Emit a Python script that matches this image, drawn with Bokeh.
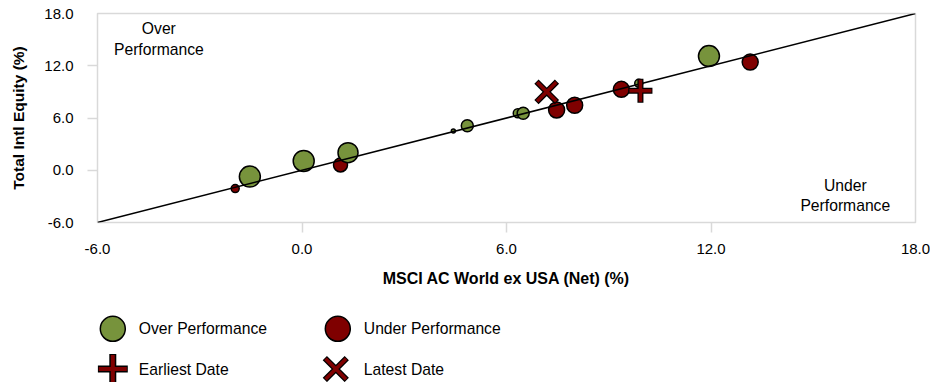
from bokeh.plotting import figure
from bokeh.models import Range1d, FixedTicker, Label, LinearAxis, PrintfTickFormatter
from bokeh.layouts import column
from bokeh.embed import file_html
from bokeh.resources import INLINE
from bokeh.core.properties import value

# ---------------- data ----------------
axis_min, axis_max = -6.0, 18.0
axis_ticks = [-6.0, 0.0, 6.0, 12.0, 18.0]
inner_ticks = [0.0, 6.0, 12.0]

x_title = "MSCI AC World ex USA (Net) (%)"
y_title = "Total Intl Equity (%)"

over_x = [-1.53, 0.05, 1.35, 4.44, 4.85, 6.33, 6.49, 9.88, 11.94]
over_y = [-0.73, 1.07, 2.02, 4.51, 5.12, 6.54, 6.54, 9.98, 13.11]
over_size = [21, 21, 20, 4, 12, 9, 12, 8, 21]

under_x = [-1.96, 1.13, 7.47, 8.00, 9.37, 13.15]
under_y = [-2.10, 0.61, 6.92, 7.46, 9.29, 12.42]
under_size = [8, 14, 16, 16, 16, 16]

earliest_x = [9.93]
earliest_y = [9.13]
latest_x = [7.18]
latest_y = [9.01]

legend_labels = ["Over Performance", "Under Performance", "Earliest Date", "Latest Date"]
region_labels = ["Over\nPerformance", "Under\nPerformance"]

# ---------------- style ----------------
FONT = "Liberation Sans"
GREEN = "#77933c"
RED = "#7f0000"
GRAY = "#d9d9d9"
W = 930
MAIN_H = 300
LEG_H = 82
BL, BR = 97, 15

p = figure(width=W, height=MAIN_H,
           x_range=Range1d(axis_min, axis_max), y_range=Range1d(axis_min, axis_max),
           output_backend="svg", toolbar_location=None,
           min_border_left=BL, min_border_right=BR, min_border_top=13, min_border_bottom=78)
p.grid.visible = False
p.outline_line_color = GRAY
p.outline_line_width = 1.5
p.background_fill_color = "white"
p.border_fill_color = "white"

# inner axes: gray tick marks only (labels not drawn)
for ax in (p.xaxis[0], p.yaxis[0]):
    ax.ticker = FixedTicker(ticks=inner_ticks)
    ax.major_label_overrides = {t: "" for t in inner_ticks}
    ax.axis_line_color = None
    ax.major_tick_line_color = GRAY
    ax.major_tick_line_width = 1.5
    ax.major_tick_out = 10
    ax.major_tick_in = 0
    ax.minor_tick_line_color = None
    ax.major_label_text_color = None
    ax.major_label_text_font_size = "1px"
    ax.major_label_standoff = 0

# outer axes: tick labels and titles
def label_axis(title, standoff, title_standoff, title_size):
    ax = LinearAxis(ticker=FixedTicker(ticks=axis_ticks),
                    formatter=PrintfTickFormatter(format="%.1f"))
    ax.axis_line_color = None
    ax.major_tick_line_color = None
    ax.minor_tick_line_color = None
    ax.major_tick_out = 0
    ax.major_tick_in = 0
    ax.major_label_standoff = standoff
    ax.major_label_text_font = FONT
    ax.major_label_text_font_size = "15px"
    ax.major_label_text_color = "black"
    ax.axis_label = title
    ax.axis_label_standoff = title_standoff
    ax.axis_label_text_font = FONT
    ax.axis_label_text_font_size = title_size
    ax.axis_label_text_font_style = "bold"
    ax.axis_label_text_color = "black"
    return ax

p.add_layout(label_axis(x_title, 11, 13, "16px"), "below")
p.add_layout(label_axis(y_title, 14, 14, "15.5px"), "left")

# points
p.scatter(under_x, under_y, size=under_size, marker="circle",
          fill_color=RED, line_color="black", line_width=1.5)
p.scatter(over_x, over_y, size=over_size, marker="circle",
          fill_color=GREEN, line_color="black", line_width=1.5)

# equal-performance line
p.line([axis_min, axis_max], [axis_min, axis_max], line_color="black", line_width=1.5)

# earliest / latest markers
p.scatter(earliest_x, earliest_y, marker="cross", size=24, line_color="black", line_width=6)
p.scatter(earliest_x, earliest_y, marker="cross", size=22, line_color=RED, line_width=3.5)
p.scatter(latest_x, latest_y, marker="x", size=29, line_color="black", line_width=6)
p.scatter(latest_x, latest_y, marker="x", size=27, line_color=RED, line_width=3.5)

# region labels
p.add_layout(Label(x=-4.2, y=17.23, text=region_labels[0], text_align="center",
                   text_baseline="top", text_font=FONT, text_font_size="15.7px",
                   text_color="black"))
p.add_layout(Label(x=15.94, y=-0.76, text=region_labels[1], text_align="center",
                   text_baseline="top", text_font=FONT, text_font_size="15.7px",
                   text_color="black"))

# ---------------- legend strip (same horizontal frame as the plot) ----------------
lg = figure(width=W, height=LEG_H, x_range=Range1d(BL, W - BR), y_range=Range1d(LEG_H, 0),
            output_backend="svg", toolbar_location=None,
            x_axis_location=None, y_axis_location=None,
            min_border_left=BL, min_border_right=BR, min_border_top=0, min_border_bottom=0)
lg.grid.visible = False
lg.outline_line_color = None

col1, col2 = 112.3, 337.3
row1, row2 = 28.3, 68.5
text_off = 26

lg.scatter([col1], [row1], marker="circle", size=25, fill_color=GREEN, line_color="black", line_width=1.5)
lg.scatter([col2], [row1], marker="circle", size=25, fill_color=RED, line_color="black", line_width=1.5)
lg.scatter([col1], [row2], marker="cross", size=30, line_color="black", line_width=7)
lg.scatter([col1], [row2], marker="cross", size=28, line_color=RED, line_width=4)
lg.scatter([col2 - 2], [row2], marker="x", size=31, line_color="black", line_width=6)
lg.scatter([col2 - 2], [row2], marker="x", size=29, line_color=RED, line_width=3.5)

lg.text(x=[col1 + text_off, col2 + text_off, col1 + text_off, col2 + text_off],
        y=[row1, row1, row2, row2], text=legend_labels,
        text_font=value(FONT), text_font_size="15.7px", text_color="black",
        text_align="left", text_baseline="middle")

layout = column(p, lg, spacing=0)
open("out.html", "w").write(file_html(layout, INLINE))
